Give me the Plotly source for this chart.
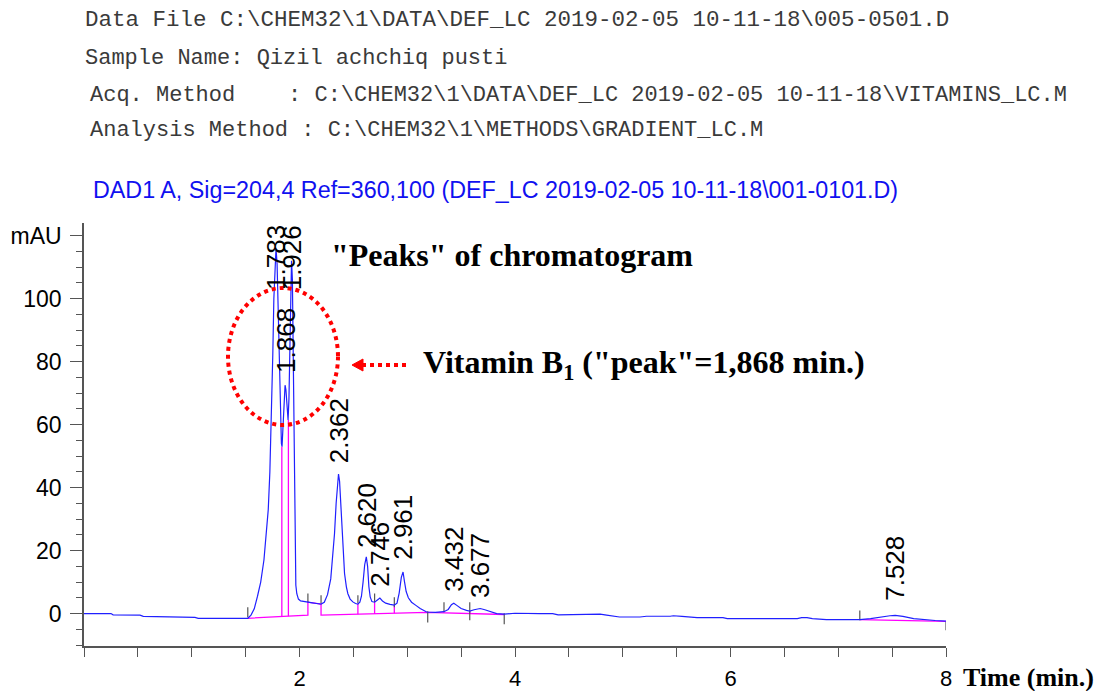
import plotly.graph_objects as go

# ---------------- data ----------------
time_min = [0.00, 0.25, 0.27, 0.52, 0.55, 0.70, 0.73, 1.03, 1.06, 1.52,
            1.55, 1.58, 1.61, 1.64, 1.67, 1.69, 1.71, 1.725, 1.74, 1.752,
            1.762, 1.772, 1.782, 1.792, 1.802, 1.812, 1.822, 1.832, 1.838, 1.846,
            1.856, 1.866, 1.874, 1.884, 1.894, 1.902, 1.910, 1.918, 1.926, 1.934,
            1.942, 1.950, 1.958, 1.966, 1.975, 1.99, 2.01, 2.05, 2.078, 2.12,
            2.16, 2.20, 2.23, 2.26, 2.29, 2.31, 2.325, 2.34, 2.352, 2.362,
            2.372, 2.382, 2.393, 2.405, 2.418, 2.435, 2.449, 2.47, 2.495, 2.52,
            2.542, 2.56, 2.575, 2.59, 2.605, 2.620, 2.632, 2.644, 2.656, 2.672,
            2.697, 2.72, 2.746, 2.77, 2.80, 2.84, 2.88, 2.905, 2.925, 2.945,
            2.961, 2.975, 2.99, 3.01, 3.04, 3.08, 3.12, 3.18, 3.26, 3.34,
            3.38, 3.41, 3.432, 3.46, 3.50, 3.55, 3.58, 3.62, 3.677, 3.72,
            3.76, 3.83, 3.90, 4.00, 4.23, 4.35, 4.40, 4.70, 4.79, 4.85,
            4.97, 5.16, 5.22, 5.44, 5.47, 5.55, 5.69, 5.93, 5.97, 6.62,
            6.66, 6.71, 6.76, 6.89, 7.20, 7.30, 7.40, 7.48, 7.528, 7.60,
            7.70, 7.80, 7.90, 8.00]
signal_mau = [0.0, 0.0, -0.4, -0.5, -0.9, -1.0, -1.2, -1.2, -1.5, -1.5,
              -0.5, 1.5, 5.5, 10, 17, 24, 33, 45, 62, 82,
              100, 112, 116, 111, 98, 80, 64, 54, 53, 58,
              68, 72.5, 71, 65, 61.5, 68, 88, 104, 112, 106,
              80, 42, 18, 9, 6.3, 4.6, 4.0, 3.7, 3.6, 3.4,
              3.2, 3.0, 3.6, 6.0, 11, 18, 25.4, 35, 42, 44.3,
              42, 35, 25.4, 18, 12.7, 8.5, 6.3, 4.6, 3.7, 3.2,
              3.0, 3.6, 5.5, 10, 15.5, 18, 15, 8.5, 5.3, 3.8,
              3.6, 4.2, 4.9, 4.0, 3.3, 2.9, 2.7, 3.3, 6.5, 11.5,
              13.2, 10, 7, 5.0, 3.6, 2.6, 1.6, 0.5, 0.4, 0.6,
              1.3, 2.8, 3.3, 2.6, 1.6, 1.0, 0.8, 1.2, 1.6, 1.2,
              0.7, 0.0, -0.2, 0.1, 0.0, 0.0, -0.4, -0.4, -0.2, -0.5,
              -1.1, -1.1, -0.85, -0.85, -0.7, -0.9, -1.3, -1.3, -1.6, -1.6,
              -1.3, -1.3, -1.6, -1.9, -1.9, -1.6, -1.0, -0.7, -0.6, -0.9,
              -1.6, -2.0, -2.2, -2.4]

# integration baselines and drop lines (None separates segments)
baseline_t = [1.52, 1.836, 2.078, 2.078, 2.20, 2.20, 3.18, 3.90, None,
              1.836, 1.836, None, 1.897, 1.897, None, 2.542, 2.542, None,
              2.697, 2.697, None, 2.88, 2.88, None, 3.58, 3.58, None,
              7.20, 8.00]
baseline_y = [-1.5, -0.95, -0.5, 3.6, 3.0, -0.5, 0.4, -0.3, None,
              -0.95, 53, None, -0.85, 61.5, None, -0.2, 3.0, None,
              -0.1, 3.6, None, 0.1, 2.7, None, 0.1, 0.8, None,
              -1.9, -2.5]

# peak start/end event ticks
event_t = [1.52, 2.078, 2.20, 2.542, 2.697, 2.88, 3.19, 3.341, 3.58, 3.90, 7.20, 8.00]
event_top = [2.0, 6.4, 5.8, 5.8, 6.4, 5.2, 0.7, 3.6, 3.6, 0.1, 1.0, -2.7]
event_bot = [-1.2, 3.6, 3.3, 3.3, 3.6, 2.0, -2.8, 0.4, -2.1, -3.4, -2.1, -5.3]

# peak retention-time labels
peak_labels = ["1.783", "1.868", "1.926", "2.362", "2.620", "2.746", "2.961", "3.432", "3.677", "7.528"]
peak_times = [1.783, 1.868, 1.926, 2.362, 2.620, 2.746, 2.961, 3.432, 3.677, 7.528]
label_base = [102, 75.7, 102, 47.1, 20.1, 8.0, 16.3, 6.4, 4.2, 3.3]

y_tickvals = [0, 20, 40, 60, 80, 100, 120]
y_ticktext = ["0", "20", "40", "60", "80", "100", "mAU"]
x_tickvals = [2, 4, 6, 8]
x_ticktext = ["2", "4", "6", "8"]

header_lines = [
    "Data File C:\\CHEM32\\1\\DATA\\DEF_LC 2019-02-05 10-11-18\\005-0501.D",
    "Sample Name: Qizil achchiq pusti",
    "Acq. Method    : C:\\CHEM32\\1\\DATA\\DEF_LC 2019-02-05 10-11-18\\VITAMINS_LC.M",
    "Analysis Method : C:\\CHEM32\\1\\METHODS\\GRADIENT_LC.M",
]
signal_title = "DAD1 A, Sig=204,4 Ref=360,100 (DEF_LC 2019-02-05 10-11-18\\001-0101.D)"

# ---------------- layout geometry (screen pixels, page margin removed) ----------------
W, H = 1104, 691
PL, PR, PT, PB = 84, 946, 223, 646          # plot area on screen
L, T, R, B = PL, PT, W - PR, H - PB
PW, PH = PR - PL, PB - PT


def px_x(sx):
    return (sx - PL) / PW


def px_y(sy):
    return (PB - sy) / PH


fig = go.Figure()
fig.add_trace(go.Scatter(x=baseline_t, y=baseline_y, mode="lines",
                         line=dict(color="#ff00ff", width=1.3), hoverinfo="skip"))
ev_x, ev_y = [], []
for t, a, b in zip(event_t, event_top, event_bot):
    ev_x += [t, t, None]
    ev_y += [a, b, None]
fig.add_trace(go.Scatter(x=ev_x, y=ev_y, mode="lines",
                         line=dict(color="#555555", width=1.2), hoverinfo="skip"))
fig.add_trace(go.Scatter(x=time_min, y=signal_mau, mode="lines",
                         line=dict(color="#2020ff", width=1.2)))

annotations = []
for lab, t, yb in zip(peak_labels, peak_times, label_base):
    annotations.append(dict(x=t, y=yb, xref="x", yref="y", text=lab, textangle=-90,
                            showarrow=False, xanchor="center", yanchor="bottom",
                            font=dict(family="Liberation Sans, Arial", size=26, color="black")))

header_pos = [(83, 20, 22.5), (83, 58, 22), (88, 95, 22), (88, 130, 22)]
for txt, (xp, yp, fs) in zip(header_lines, header_pos):
    annotations.append(dict(x=px_x(xp), y=px_y(yp), xref="paper", yref="paper", text=txt,
                            showarrow=False, xanchor="left", yanchor="middle",
                            font=dict(family="Liberation Mono, Courier New, monospace", size=fs,
                                      color="#3a3a3a")))
annotations.append(dict(x=px_x(91), y=px_y(190), xref="paper", yref="paper", text=signal_title,
                        showarrow=False, xanchor="left", yanchor="middle",
                        font=dict(family="Liberation Sans, Arial", size=23.3, color="#1010f0")))
annotations.append(dict(x=px_x(329), y=px_y(255), xref="paper", yref="paper",
                        text="<b>\"Peaks\" of chromatogram</b>", showarrow=False,
                        xanchor="left", yanchor="middle",
                        font=dict(family="Liberation Serif, Times New Roman", size=32, color="black")))
annotations.append(dict(x=px_x(421), y=px_y(364), xref="paper", yref="paper",
                        text="<b>Vitamin B<sub>1</sub> (\"peak\"=1,868 min.)</b>", showarrow=False,
                        xanchor="left", yanchor="middle",
                        font=dict(family="Liberation Serif, Times New Roman", size=32, color="black")))
annotations.append(dict(x=px_x(961), y=px_y(677), xref="paper", yref="paper",
                        text="<b>Time (min.)</b>", showarrow=False,
                        xanchor="left", yanchor="middle",
                        font=dict(family="Liberation Serif, Times New Roman", size=26, color="black")))

shapes = [
    dict(type="circle", xref="paper", yref="paper", x0=px_x(228), x1=px_x(338),
         y0=px_y(425), y1=px_y(288), line=dict(color="#ff0000", width=4, dash="dot")),
    dict(type="line", xref="paper", yref="paper", x0=px_x(362), x1=px_x(410),
         y0=px_y(365), y1=px_y(365), line=dict(color="#ff0000", width=4, dash="dot")),
    dict(type="path", xref="paper", yref="paper",
         path=f"M {px_x(352)},{px_y(365)} L {px_x(363)},{px_y(359)} L {px_x(363)},{px_y(371)} Z",
         fillcolor="#ff0000", line=dict(color="#ff0000", width=1)),
]

fig.update_layout(
    template="none",
    width=W, height=H, margin=dict(l=L, r=R, t=T, b=B, pad=0), autosize=False,
    paper_bgcolor="white", plot_bgcolor="white", showlegend=False,
    annotations=annotations, shapes=shapes,
    xaxis=dict(range=[0, 8], showgrid=False, zeroline=False, showline=True, automargin=False,
               linecolor="#555555", linewidth=1.5, ticks="outside", ticklen=9,
               tickcolor="#555555", tickwidth=1.2, tickvals=x_tickvals, ticktext=x_ticktext,
               minor=dict(dtick=0.5, tick0=0, ticks="outside", ticklen=9, tickcolor="#555555",
                          tickwidth=1.2, showgrid=False),
               tickfont=dict(family="Liberation Sans, Arial", size=22, color="black"),
               ticklabelstandoff=3),
    yaxis=dict(range=[-10.3, 124], showgrid=False, zeroline=False, showline=True, automargin=False,
               linecolor="#555555", linewidth=1.5, ticks="outside", ticklen=12,
               tickcolor="#555555", tickwidth=1.2, tickvals=y_tickvals, ticktext=y_ticktext,
               minor=dict(dtick=5, tick0=0, ticks="outside", ticklen=6, tickcolor="#555555",
                          tickwidth=1.2, showgrid=False),
               tickfont=dict(family="Liberation Sans, Arial", size=23, color="black"),
               ticklabelstandoff=4),
)

fig.write_html("out.html", config={"displayModeBar": False},
               post_script="document.body.style.margin='0';document.body.style.overflow='hidden';")
